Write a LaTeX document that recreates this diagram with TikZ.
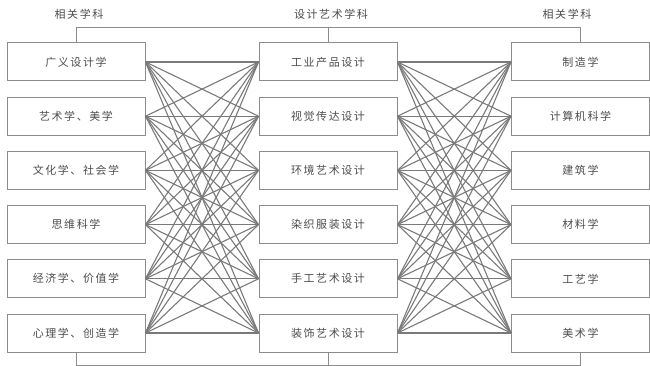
\documentclass[tikz,border=0pt]{standalone}
\usepackage{fontspec}
\setmainfont{Noto Sans CJK SC}[LetterSpace=14]
\begin{document}
\begin{tikzpicture}[x=1pt,y=-1pt,
  box/.style={draw=black!45,line width=1pt,minimum width=138pt,minimum height=38pt,inner sep=0pt,
    font=\fontsize{11}{13}\selectfont,text=black!70},
  head/.style={font=\fontsize{11}{13}\selectfont,text=black!70,inner sep=0pt},
  link/.style={draw=black!52,line width=1.1pt},
  frame/.style={draw=black!45,line width=1pt}]
\useasboundingbox (0,0) rectangle (650,366);
\node[head] (h1) at (79,14) {相关学科};
\node[head] (h2) at (331,14) {设计艺术学科};
\node[head] (h3) at (567,14) {相关学科};
\foreach \t [count=\i] in {广义设计学,艺术学、美学,文化学、社会学,思维科学,经济学、价值学,心理学、创造学}
  \node[box] (L\i) at (76,{62+54.2*(\i-1)}) {\t};
\foreach \t [count=\i] in {工业产品设计,视觉传达设计,环境艺术设计,染织服装设计,手工艺术设计,装饰艺术设计}
  \node[box] (M\i) at (328,{62+54.2*(\i-1)}) {\t};
\foreach \t [count=\i] in {制造学,计算机科学,建筑学,材料学,工艺学,美术学}
  \node[box] (R\i) at (580.5,{62+54.2*(\i-1)}) {\t};
\foreach \i in {1,...,6}{
  \foreach \j in {1,...,6}{
    \draw[link] (L\i.east) -- (M\j.west);
    \draw[link] (M\i.east) -- (R\j.west);
  }
}
\coordinate (t1) at (L1.north |- 0,28);
\coordinate (t3) at (R1.north |- 0,28);
\draw[frame] (L1.north) -- (t1) -- (t3) -- (R1.north);
\draw[frame] (M1.north) -- (M1.north |- t1);
\coordinate (b1) at (L6.south |- 0,365);
\coordinate (b3) at (R6.south |- 0,365);
\draw[frame] (L6.south) -- (b1) -- (b3) -- (R6.south);
\draw[frame] (M6.south) -- (M6.south |- b1);
\end{tikzpicture}
\end{document}
